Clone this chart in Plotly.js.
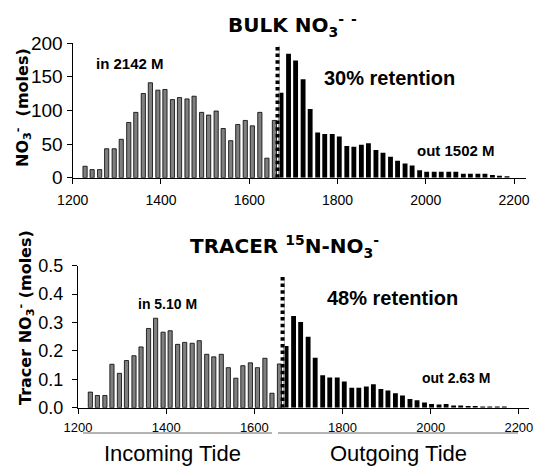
<!DOCTYPE html>
<html>
<head>
<meta charset="utf-8">
<script src="https://cdn.plot.ly/plotly-3.0.1.min.js"></script>
<style>html,body{margin:0;padding:0;background:#fff}#chart{width:534px;height:472px}</style>
</head>
<body>
<div id="chart"></div>
<script>
// ---- data ----
const timeIn = [1228,1244,1261,1277,1294,1310,1327,1343,1360,1376,1393,1409,1426,1442,1459,1475,1492,1508,1525,1541,1558,1574,1591,1607,1624,1640,1657];
const timeOut = [1672,1689,1705,1722,1738,1755,1771,1788,1804,1821,1837,1854,1870,1887,1903,1920,1936,1953,1969,1986,2002,2019,2035,2052,2068,2085,2101,2118,2134,2151,2167,2184];
const bulkIn = [17,12,12,43,43,57,82,97,125,141,130,131,116,119,117,121,97,93,99,73,55,79,85,77,97,29,85];
const bulkOut = [126,184,174,146,102,67,65,65,61,47,46,49,51,41,37,31,25,21,18,11,9,9,9,9,9,6,6,6,6,4,3,2];
const tracerIn = [0.055,0.043,0.043,0.153,0.121,0.166,0.183,0.214,0.279,0.315,0.266,0.271,0.223,0.230,0.227,0.236,0.188,0.179,0.188,0.141,0.104,0.148,0.158,0.141,0.174,0.051,0.154];
const tracerOut = [0.217,0.323,0.302,0.250,0.176,0.114,0.106,0.106,0.092,0.070,0.070,0.075,0.083,0.066,0.061,0.051,0.043,0.031,0.026,0.018,0.013,0.011,0.013,0.008,0.008,0.006,0.006,0.004,0.004,0.004,0.004,0];
const xTicks = [1200,1400,1600,1800,2000,2200];
const bulkTicks = [0,50,100,150,200];
const tracerTicks = [0,0.1,0.2,0.3,0.4,0.5];
const tideSplit = 1664;

const W = 534, H = 472;
const px = v => v / W;
const py = v => 1 - v / H;

const greyBar = {color:'#7f7f7f', line:{color:'#000', width:0.8}};
const blackBar = {color:'#000', line:{color:'#000', width:0}};

const traces = [
  {type:'bar', x:timeIn, y:bulkIn, xaxis:'x', yaxis:'y', width:9.5, marker:greyBar, hoverinfo:'x+y'},
  {type:'bar', x:timeOut, y:bulkOut, xaxis:'x', yaxis:'y', width:11, marker:blackBar, hoverinfo:'x+y'},
  {type:'bar', x:timeIn, y:tracerIn, xaxis:'x2', yaxis:'y2', width:9.5, marker:greyBar, hoverinfo:'x+y'},
  {type:'bar', x:timeOut, y:tracerOut, xaxis:'x2', yaxis:'y2', width:11, marker:blackBar, hoverinfo:'x+y'}
];

const axisFont = {family:'Liberation Sans, Arial, sans-serif', color:'#000'};
const baseX = {
  showgrid:false, zeroline:false, showline:true, linecolor:'#000', linewidth:1.2,
  ticks:'outside', ticklen:5, tickcolor:'#000', tickwidth:1, tickvals:xTicks
};
const baseY = {
  showgrid:false, zeroline:false, showline:true, linecolor:'#000', linewidth:1.2,
  ticks:'outside', ticklen:5, tickcolor:'#000', tickwidth:1
};
const dotLine = {color:'#000', width:4, dash:'3.5px,3.2px'};

const layout = {
  width:W, height:H, margin:{l:0,r:0,t:0,b:0},
  paper_bgcolor:'#fff', plot_bgcolor:'#fff', showlegend:false, barmode:'overlay',
  xaxis: Object.assign({}, baseX, {domain:[px(72.7), px(526)], range:[1200, 2227], anchor:'y',
    tickfont:Object.assign({size:14}, axisFont), ticklabelstandoff:4}),
  yaxis: Object.assign({}, baseY, {domain:[1-177.7/H, 1-43/H], range:[0,200], anchor:'x',
    tickvals:bulkTicks, tickfont:Object.assign({size:19}, axisFont)}),
  xaxis2: Object.assign({}, baseX, {domain:[px(78), px(529)], range:[1200, 2223], anchor:'y2',
    tickfont:Object.assign({size:13}, axisFont), ticklabelstandoff:2}),
  yaxis2: Object.assign({}, baseY, {domain:[1-407.7/H, 1-265.7/H], range:[0,0.5], anchor:'x2',
    tickvals:tracerTicks, tickformat:'.1f', tickfont:Object.assign({size:18}, axisFont), ticklabelstandoff:5}),
  shapes:[
    {type:'line', xref:'x', yref:'y', x0:tideSplit+4, x1:tideSplit+4, y0:0, y1:196, line:{color:'#b0b0b0', width:1}},
    {type:'line', xref:'x', yref:'y', x0:tideSplit, x1:tideSplit, y0:0, y1:196, line:dotLine},
    {type:'line', xref:'x2', yref:'y2', x0:tideSplit+4, x1:tideSplit+4, y0:0, y1:0.46, line:{color:'#b0b0b0', width:1}},
    {type:'line', xref:'x2', yref:'y2', x0:tideSplit, x1:tideSplit, y0:0, y1:0.46, line:dotLine},
    {type:'line', xref:'paper', yref:'paper', x0:px(83), x1:px(272), y0:py(433), y1:py(433), line:{color:'#9a9a9a', width:1.5}},
    {type:'line', xref:'paper', yref:'paper', x0:px(278), x1:px(518), y0:py(433), y1:py(433), line:{color:'#9a9a9a', width:1.5}}
  ],
  annotations:[
    {xref:'paper', yref:'paper', x:px(292), y:py(26), xanchor:'center', yanchor:'middle', showarrow:false,
     text:'<b>BULK NO<sub>3</sub><sup>-</sup> <sup>-</sup></b>', font:{family:'DejaVu Sans', size:20, color:'#000'}},
    {xref:'paper', yref:'paper', x:px(284), y:py(246), xanchor:'center', yanchor:'middle', showarrow:false,
     text:'<b>TRACER <sup>15</sup>N-NO<sub>3</sub><sup>-</sup></b>', font:{family:'DejaVu Sans', size:20, color:'#000'}},
    {xref:'paper', yref:'paper', x:px(22), y:py(108), xanchor:'center', yanchor:'middle', showarrow:false, textangle:-90,
     text:'<b>NO<sub>3</sub><sup>-</sup>  (moles)</b>', font:{family:'DejaVu Sans', size:16, color:'#000'}},
    {xref:'paper', yref:'paper', x:px(25), y:py(318), xanchor:'center', yanchor:'middle', showarrow:false, textangle:-90,
     text:'<b>Tracer NO<sub>3</sub><sup>-</sup> (moles)</b>', font:{family:'DejaVu Sans', size:16, color:'#000'}},
    {xref:'paper', yref:'paper', x:px(130), y:py(64), xanchor:'center', yanchor:'middle', showarrow:false,
     text:'<b>in 2142 M</b>', font:{family:'Liberation Sans, Arial', size:15, color:'#000'}},
    {xref:'paper', yref:'paper', x:px(389), y:py(78), xanchor:'center', yanchor:'middle', showarrow:false,
     text:'<b>30% retention</b>', font:{family:'Liberation Sans, Arial', size:20, color:'#000'}},
    {xref:'paper', yref:'paper', x:px(456), y:py(150), xanchor:'center', yanchor:'middle', showarrow:false,
     text:'<b>out 1502 M</b>', font:{family:'Liberation Sans, Arial', size:15, color:'#000'}},
    {xref:'paper', yref:'paper', x:px(167), y:py(304), xanchor:'center', yanchor:'middle', showarrow:false,
     text:'<b>in 5.10 M</b>', font:{family:'Liberation Sans, Arial', size:14, color:'#000'}},
    {xref:'paper', yref:'paper', x:px(392), y:py(298), xanchor:'center', yanchor:'middle', showarrow:false,
     text:'<b>48% retention</b>', font:{family:'Liberation Sans, Arial', size:20, color:'#000'}},
    {xref:'paper', yref:'paper', x:px(456), y:py(378), xanchor:'center', yanchor:'middle', showarrow:false,
     text:'<b>out 2.63 M</b>', font:{family:'Liberation Sans, Arial', size:14, color:'#000'}},
    {xref:'paper', yref:'paper', x:px(172), y:py(453), xanchor:'center', yanchor:'middle', showarrow:false,
     text:'Incoming Tide', font:{family:'Liberation Sans, Arial', size:22, color:'#000'}},
    {xref:'paper', yref:'paper', x:px(398), y:py(453), xanchor:'center', yanchor:'middle', showarrow:false,
     text:'Outgoing Tide', font:{family:'Liberation Sans, Arial', size:22, color:'#000'}}
  ]
};

Plotly.newPlot('chart', traces, layout, {staticPlot:true, displayModeBar:false});
</script>
</body>
</html>
